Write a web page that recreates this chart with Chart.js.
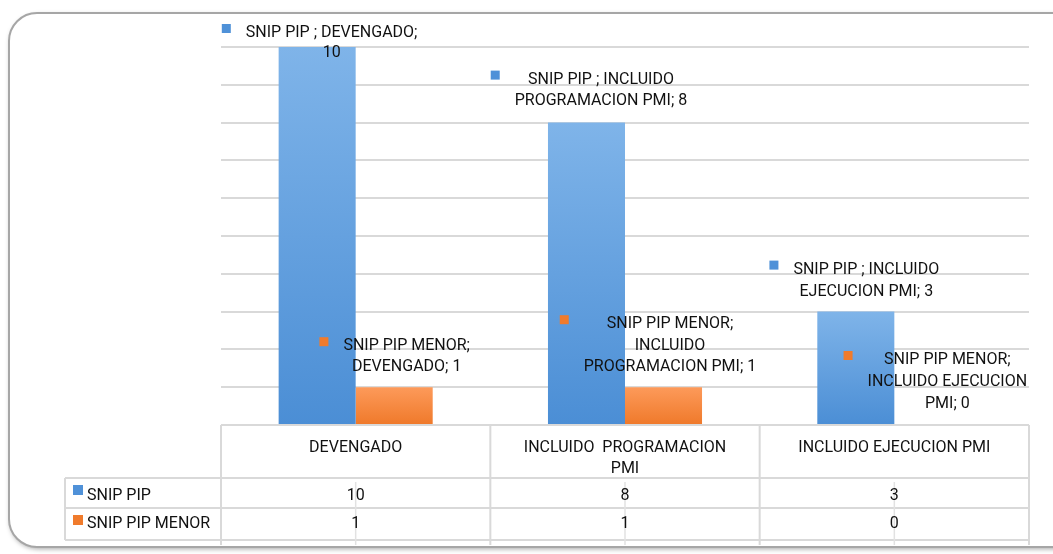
<!DOCTYPE html>
<html>
<head>
<meta charset="utf-8">
<script src="https://cdn.jsdelivr.net/npm/chart.js@4.4.1/dist/chart.umd.min.js"></script>
<style>
  html, body { margin: 0; padding: 0; background: #fff; }
  #wrap { width: 1053px; height: 554px; position: relative; }
</style>
</head>
<body>
<div id="wrap"><canvas id="chart"></canvas></div>
<script>
// chart data
const categories = ['DEVENGADO', 'INCLUIDO PROGRAMACION PMI', 'INCLUIDO EJECUCION PMI'];
const headerLines = [['DEVENGADO'], ['INCLUIDO  PROGRAMACION', 'PMI'], ['INCLUIDO EJECUCION PMI']];
const seriesNames = ['SNIP PIP ', 'SNIP PIP MENOR'];
const snipPip = [10, 8, 3];
const snipPipMenor = [1, 1, 0];
const yTicks = [0, 1, 2, 3, 4, 5, 6, 7, 8, 9, 10];

const FONT = "16px 'Roboto', sans-serif";
const TEXT = '#111';

function barGradient(top, bottom) {
  return function(context) {
    const chart = context.chart;
    const y = chart.scales.y;
    if (!y || context.parsed == null) return top;
    const y1 = y.getPixelForValue(context.parsed.y);
    const y0 = y.getPixelForValue(0);
    if (!isFinite(y1) || y1 === y0) return top;
    const g = chart.ctx.createLinearGradient(0, y1, 0, y0);
    g.addColorStop(0, top);
    g.addColorStop(1, bottom);
    return g;
  };
}

// white card with rounded border
const framePlugin = {
  id: 'frame',
  beforeDraw(chart) {
    const ctx = chart.ctx;
    ctx.save();
    ctx.fillStyle = '#fff';
    ctx.fillRect(0, 0, chart.width, chart.height);
    ctx.shadowColor = 'rgba(0,0,0,0.35)';
    ctx.shadowBlur = 5;
    ctx.shadowOffsetX = 1;
    ctx.shadowOffsetY = 2;
    ctx.beginPath();
    ctx.roundRect(9, 13, 1080, 534, 28);
    ctx.fillStyle = '#fff';
    ctx.fill();
    ctx.shadowColor = 'transparent';
    ctx.strokeStyle = '#a6a6a6';
    ctx.lineWidth = 2;
    ctx.stroke();
    ctx.restore();
  }
};

// data table under the plot
const tablePlugin = {
  id: 'table',
  afterDraw(chart) {
    const ctx = chart.ctx;
    const area = chart.chartArea;
    const x = chart.scales.x;
    const n = categories.length;
    const w = (area.right - area.left) / n;
    const top = area.bottom;
    const r1 = top + 53, r2 = top + 83, r3 = top + 115;
    const tableLeft = 65;
    ctx.save();
    ctx.strokeStyle = '#d9d9d9';
    ctx.lineWidth = 2;
    ctx.beginPath();
    for (let i = 0; i <= n; i++) {
      const xx = area.left + i * w;
      ctx.moveTo(xx, top);
      ctx.lineTo(xx, top + 120);
    }
    [r1, r2, r3].forEach(yy => { ctx.moveTo(tableLeft, yy); ctx.lineTo(area.right, yy); });
    ctx.moveTo(tableLeft, r1);
    ctx.lineTo(tableLeft, r3);
    ctx.stroke();
    // faint centre ticks
    ctx.strokeStyle = '#e2e2e2';
    ctx.lineWidth = 1.5;
    ctx.beginPath();
    for (let i = 0; i < n; i++) {
      const cx = x.getPixelForValue(i);
      ctx.moveTo(cx, r1 + 4);
      ctx.lineTo(cx, top + 120);
    }
    ctx.stroke();

    ctx.font = FONT;
    ctx.fillStyle = TEXT;
    ctx.textAlign = 'center';
    ctx.textBaseline = 'middle';
    headerLines.forEach((lines, i) => {
      const cx = x.getPixelForValue(i);
      lines.forEach((t, k) => ctx.fillText(t, cx, top + 23 + k * 21));
    });
    const rows = [snipPip, snipPipMenor];
    const rowY = [r1 + 18, r2 + 16];
    rows.forEach((vals, j) => {
      vals.forEach((v, i) => ctx.fillText(String(v), x.getPixelForValue(i), rowY[j]));
    });
    // row legend keys
    ctx.textAlign = 'left';
    chart.data.datasets.forEach((ds, j) => {
      ctx.fillStyle = ds.keyColor;
      ctx.fillRect(73, rowY[j] - 9 - (j === 0 ? 2 : 0), 10, 10);
      ctx.fillStyle = TEXT;
      ctx.fillText(ds.label.trim(), 87, rowY[j]);
    });
    ctx.restore();
  }
};

// label placement: [dx, dy, lineHeight, wrapWidth] from bar top centre
const labelLayout = [
  [[14.5, -14, 20, 190], [14.5, -43, 21, 190], [10.5, -42, 22, 160]],
  [[12.5, -41, 21, 140], [6.5, -63, 21.5, 190], [14.5, -65, 22, 170]]
];

function wrap(ctx, text, maxW) {
  const words = text.split(' ');
  const lines = [];
  let cur = '';
  words.forEach(wd => {
    const t = cur ? cur + ' ' + wd : wd;
    if (cur && ctx.measureText(t).width > maxW) { lines.push(cur); cur = wd; }
    else cur = t;
  });
  if (cur) lines.push(cur);
  return lines;
}

const labelPlugin = {
  id: 'pointLabels',
  afterDatasetsDraw(chart) {
    const ctx = chart.ctx;
    ctx.save();
    ctx.font = FONT;
    ctx.textAlign = 'center';
    ctx.textBaseline = 'middle';
    chart.data.datasets.forEach((ds, j) => {
      const meta = chart.getDatasetMeta(j);
      meta.data.forEach((bar, i) => {
        const [dx, dy, lh, ww] = labelLayout[j][i];
        const text = ds.label + '; ' + categories[i] + '; ' + ds.data[i];
        const lines = wrap(ctx, text, ww);
        const cx = bar.x + dx;
        const cy = bar.y + dy;
        const maxW = Math.max(...lines.map(l => ctx.measureText(l).width));
        ctx.fillStyle = ds.keyColor;
        ctx.fillRect(cx - maxW / 2 - 24, cy - 9, 9, 9);
        ctx.fillStyle = TEXT;
        lines.forEach((l, k) => ctx.fillText(l, cx, cy + k * lh));
      });
    });
    ctx.restore();
  }
};

new Chart(document.getElementById('chart'), {
  type: 'bar',
  data: {
    labels: categories,
    datasets: [
      {
        label: seriesNames[0],
        data: snipPip,
        keyColor: '#4f91d8',
        backgroundColor: barGradient('#7fb4e9', '#4b8ed5'),
        borderWidth: 0,
        barPercentage: 1,
        categoryPercentage: 0.572
      },
      {
        label: seriesNames[1],
        data: snipPipMenor,
        keyColor: '#f07b2c',
        backgroundColor: barGradient('#fd9a5a', '#ef792a'),
        borderWidth: 0,
        barPercentage: 1,
        categoryPercentage: 0.572
      }
    ]
  },
  options: {
    responsive: true,
    maintainAspectRatio: false,
    animation: false,
    layout: { padding: { left: 221, right: 24, top: 47, bottom: 129 } },
    plugins: {
      legend: { display: false },
      tooltip: { enabled: false }
    },
    scales: {
      x: { display: false },
      y: {
        min: yTicks[0],
        max: yTicks[yTicks.length - 1],
        afterBuildTicks: axis => { axis.ticks = yTicks.map(v => ({ value: v })); },
        ticks: { display: false },
        border: { display: false },
        grid: { color: '#d9d9d9', lineWidth: 2, drawTicks: false }
      }
    }
  },
  plugins: [framePlugin, tablePlugin, labelPlugin]
});
</script>
</body>
</html>
